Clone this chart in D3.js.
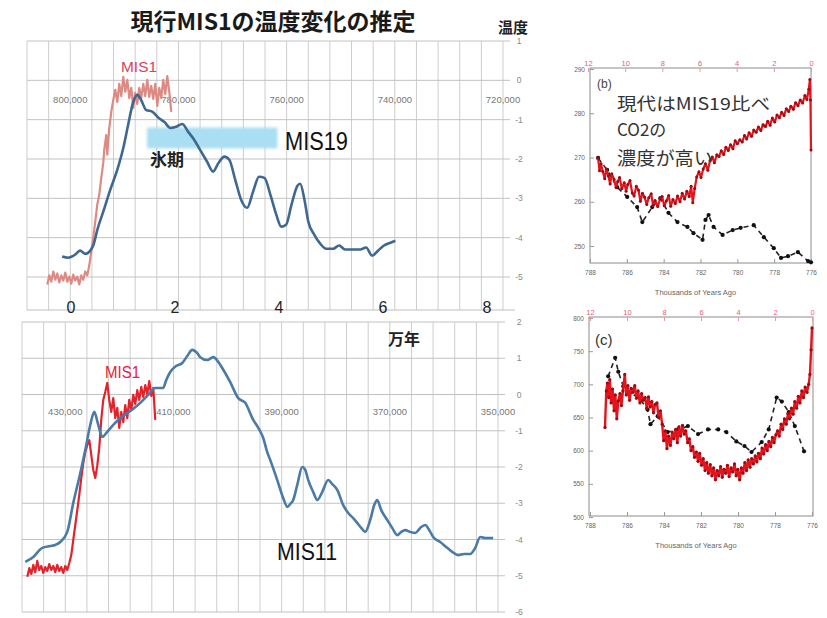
<!DOCTYPE html>
<html>
<head>
<meta charset="utf-8">
<script src="https://cdn.jsdelivr.net/npm/d3@7"></script>
<style>
  body { margin: 0; background: #fff; }
  svg { display: block; }
  text { font-family: "Liberation Sans", Arial, sans-serif; }
  .jp { font-family: "Noto Sans CJK JP", sans-serif; }
</style>
</head>
<body>
<svg id="chart" width="827" height="618"></svg>
<script>
// ---------- data ----------
// Upper left: MIS19 temperature anomaly (age in ka, anomaly in °C)
const mis19Temp = [[801.5,-4.48],[800.4,-4.51],[799.1,-4.43],[798.2,-4.33],[797.2,-4.41],[796.3,-4.33],[795.7,-4.18],[795.0,-3.80],[793.9,-3.34],[792.6,-2.78],[791.3,-2.27],[790.2,-1.72],[789.3,-1.13],[788.4,-0.57],[787.6,-0.37],[786.9,-0.50],[786.0,-0.75],[784.8,-0.80],[783.7,-0.95],[782.6,-1.06],[781.5,-1.21],[780.4,-1.18],[779.3,-1.11],[778.2,-1.31],[777.1,-1.51],[776.0,-1.77],[774.7,-2.07],[773.6,-2.32],[772.6,-2.10],[771.5,-1.94],[770.6,-2.02],[769.5,-2.53],[768.4,-3.04],[767.3,-3.24],[766.2,-2.83],[765.1,-2.45],[764.1,-2.48],[763.0,-2.91],[761.9,-3.42],[761.0,-3.72],[760.1,-3.67],[759.1,-3.16],[758.0,-2.68],[757.5,-2.63],[756.7,-3.04],[756.0,-3.59],[754.9,-3.92],[753.8,-4.15],[752.7,-4.28],[751.4,-4.28],[750.3,-4.20],[749.2,-4.30],[747.9,-4.30],[746.4,-4.30],[745.3,-4.25],[744.2,-4.46],[743.1,-4.33],[742.0,-4.20],[740.8,-4.13],[739.9,-4.08]];

// Upper left: MIS1 (current interglacial) overlaid on the MIS19 time axis
const mis1TempUpper = [[804.25,-5.19],[803.88,-4.96],[803.51,-5.12],[803.14,-4.86],[802.77,-5.07],[802.40,-4.91],[802.03,-5.14],[801.66,-4.96],[801.29,-5.09],[800.92,-4.89],[800.55,-5.12],[800.18,-4.99],[799.82,-5.17],[799.45,-4.94],[799.08,-5.09],[798.71,-4.99],[798.34,-5.19],[797.97,-4.96],[797.60,-5.07],[797.23,-4.86],[796.86,-4.96],[796.49,-4.71],[796.12,-4.36],[795.75,-4.00],[795.38,-3.59],[795.01,-3.16],[794.64,-2.91],[794.27,-2.48],[793.90,-2.10],[793.72,-1.77],[793.35,-1.39],[793.16,-1.89],[792.79,-1.21],[792.42,-0.80],[792.05,-0.50],[791.68,-0.24],[791.31,-0.55],[790.94,-0.09],[790.57,-0.40],[790.20,0.09],[789.83,-0.29],[789.46,0.01],[789.09,-0.45],[788.72,-0.19],[788.35,-0.70],[787.99,-0.32],[787.62,-0.60],[787.25,-0.19],[786.88,-0.45],[786.51,-0.09],[786.14,-0.40],[785.77,0.01],[785.40,-0.42],[785.03,-0.14],[784.66,-0.47],[784.29,-0.09],[783.92,-0.65],[783.55,-0.19],[783.18,-0.45],[782.81,0.01],[782.44,-0.35],[782.07,0.11],[781.70,-0.29],[781.33,-0.80]];

// Lower left: MIS11 temperature anomaly
const mis11Temp = [[437.39,-4.62],[435.91,-4.48],[434.25,-4.23],[432.77,-4.18],[431.85,-4.15],[430.92,-4.07],[429.63,-3.79],[428.52,-2.99],[427.23,-2.17],[426.30,-1.53],[425.38,-0.84],[424.64,-0.48],[423.90,-0.84],[423.16,-1.17],[422.24,-1.03],[421.13,-0.84],[419.83,-0.65],[418.54,-0.51],[417.25,-0.37],[416.13,-0.23],[414.66,-0.01],[413.36,0.18],[411.89,0.18],[411.33,0.40],[410.59,0.62],[409.48,0.79],[408.37,0.87],[407.45,1.06],[406.52,1.23],[405.60,1.14],[405.05,1.03],[403.75,0.95],[402.64,1.03],[401.72,0.90],[400.98,0.73],[399.50,0.34],[398.02,-0.10],[396.73,-0.23],[395.25,-0.70],[394.32,-0.92],[393.40,-1.20],[392.66,-1.59],[392.10,-1.81],[390.81,-2.36],[389.70,-2.86],[388.96,-3.10],[388.41,-3.02],[387.86,-2.91],[387.12,-2.50],[386.19,-2.00],[385.64,-2.08],[385.08,-2.36],[384.16,-2.69],[383.42,-2.91],[382.50,-2.69],[381.39,-2.36],[380.65,-2.47],[379.72,-2.63],[378.61,-3.05],[377.69,-3.27],[376.77,-3.41],[376.03,-3.54],[375.29,-3.68],[374.55,-3.79],[373.62,-3.46],[372.88,-3.05],[372.33,-2.91],[371.59,-3.19],[370.48,-3.46],[369.56,-3.68],[368.63,-3.88],[367.89,-3.79],[367.15,-3.74],[366.23,-3.79],[365.30,-3.82],[364.38,-3.68],[363.46,-3.60],[362.53,-3.79],[361.98,-3.93],[360.68,-4.07],[359.39,-4.23],[358.47,-4.34],[357.36,-4.43],[356.25,-4.40],[355.14,-4.40],[354.21,-4.23],[353.29,-3.93],[352.37,-3.96],[350.89,-3.96]];

// Lower left: MIS1 overlaid on the MIS11 time axis
const mis1TempLower = [[437.02,-5.03],[436.65,-4.79],[436.28,-4.95],[435.91,-4.70],[435.55,-4.90],[435.18,-4.59],[434.81,-4.84],[434.44,-4.73],[434.07,-4.92],[433.70,-4.76],[433.33,-4.87],[432.96,-4.68],[432.59,-4.84],[432.22,-4.73],[431.85,-4.90],[431.48,-4.70],[431.11,-4.87],[430.74,-4.76],[430.37,-4.92],[430.00,-4.73],[429.63,-4.84],[429.26,-4.65],[428.89,-4.43],[428.52,-4.01],[428.15,-3.60],[427.78,-3.19],[427.41,-2.77],[427.04,-2.30],[426.67,-1.89],[426.30,-1.59],[425.93,-1.39],[425.56,-1.26],[425.19,-1.67],[424.82,-2.08],[424.45,-2.30],[424.09,-1.97],[423.72,-1.48],[423.35,-0.70],[422.98,-0.15],[422.61,0.07],[422.24,0.32],[421.87,-0.15],[421.50,-0.48],[421.13,-0.10],[420.76,-0.65],[420.39,-0.37],[420.02,-0.92],[419.65,-0.48],[419.28,-0.76],[418.91,-0.29],[418.54,-0.65],[418.17,-0.15],[417.80,-0.43],[417.43,-0.01],[417.06,-0.26],[416.69,0.12],[416.32,-0.15],[415.95,0.21],[415.58,-0.07],[415.21,0.26],[414.84,0.01],[414.47,0.37],[414.10,-0.04],[413.73,0.18],[413.36,-0.70]];

// Panel (b): CO2 (ppm). Holocene on the upper ka axis, MIS19 on the lower ka axis
const co2Holocene = [[11.46,269.9],[11.38,267.0],[11.30,268.6],[11.21,266.9],[11.10,265.2],[11.02,267.4],[10.90,265.8],[10.81,264.0],[10.72,266.3],[10.60,265.1],[10.49,263.2],[10.40,264.6],[10.30,265.5],[10.18,263.0],[10.05,264.3],[9.95,262.4],[9.86,263.9],[9.74,264.8],[9.62,262.0],[9.52,261.3],[9.40,263.5],[9.28,262.6],[9.18,260.1],[9.07,261.9],[8.95,261.0],[8.84,259.4],[8.73,260.9],[8.60,261.8],[8.50,259.2],[8.39,260.3],[8.25,258.9],[8.12,260.6],[8.01,261.2],[7.90,259.1],[7.78,260.2],[7.66,261.4],[7.55,259.0],[7.43,260.5],[7.30,259.6],[7.18,261.3],[7.05,260.0],[6.93,261.9],[6.80,260.6],[6.68,262.4],[6.55,261.2],[6.45,263.5],[6.36,259.8],[6.26,263.0],[6.15,265.6],[6.03,266.8],[5.92,265.5],[5.80,267.4],[5.68,268.6],[5.55,267.1],[5.43,269.3],[5.31,270.1],[5.20,268.8],[5.07,270.6],[4.95,270.2],[4.83,271.5],[4.70,270.7],[4.58,272.3],[4.45,271.6],[4.33,272.9],[4.20,272.0],[4.08,273.8],[3.96,273.1],[3.83,274.0],[3.70,273.5],[3.58,275.0],[3.46,274.2],[3.33,275.6],[3.20,274.8],[3.08,276.2],[2.95,275.7],[2.83,276.9],[2.70,276.1],[2.58,277.4],[2.45,277.0],[2.33,278.2],[2.20,277.3],[2.08,278.9],[1.95,278.0],[1.83,279.6],[1.70,279.0],[1.58,280.2],[1.45,279.5],[1.33,281.0],[1.20,280.4],[1.08,281.6],[0.95,280.9],[0.83,282.4],[0.70,281.7],[0.58,283.0],[0.45,282.3],[0.33,284.0],[0.22,283.1],[0.12,285.4],[0.06,287.6],[0.03,283.0],[0.00,271.7]];
const co2Mis19 = [[787.56,269.9],[787.07,267.2],[786.53,263.3],[785.98,261.1],[785.44,258.8],[785.16,255.4],[784.62,258.8],[784.18,260.8],[783.74,257.5],[783.25,255.4],[782.71,254.3],[782.38,252.9],[781.89,251.4],[781.73,255.9],[781.56,257.0],[781.29,254.3],[780.80,252.5],[780.25,253.6],[779.82,254.1],[779.11,254.7],[778.56,252.0],[778.02,249.5],[777.63,247.3],[777.25,247.7],[776.71,248.6],[776.16,246.6],[776.00,246.3]];

// Panel (c): CH4 (ppb)
const ch4Holocene = [[11.19,635],[11.12,690],[11.06,702],[10.99,680],[10.93,707],[10.86,672],[10.78,693],[10.70,660],[10.63,684],[10.55,648],[10.47,675],[10.38,686],[10.30,668],[10.22,690],[10.12,715],[10.04,684],[9.95,698],[9.86,676],[9.77,694],[9.68,688],[9.58,698],[9.49,679],[9.40,690],[9.30,672],[9.21,686],[9.12,676],[9.02,680],[8.93,664],[8.84,681],[8.75,666],[8.66,674],[8.57,657],[8.48,670],[8.38,672],[8.29,650],[8.19,660],[8.10,640],[8.02,615],[7.93,630],[7.84,603],[7.75,622],[7.65,608],[7.56,628],[7.47,618],[7.37,632],[7.28,612],[7.19,636],[7.10,622],[7.00,638],[6.91,625],[6.82,630],[6.72,612],[6.63,618],[6.54,600],[6.44,606],[6.35,590],[6.25,598],[6.16,584],[6.07,596],[5.97,578],[5.88,588],[5.78,570],[5.69,582],[5.60,566],[5.50,579],[5.41,562],[5.32,574],[5.22,556],[5.13,570],[5.04,562],[4.94,576],[4.85,560],[4.76,572],[4.66,566],[4.57,578],[4.48,561],[4.38,574],[4.29,568],[4.19,580],[4.10,562],[4.01,572],[3.91,556],[3.82,574],[3.73,566],[3.63,582],[3.54,570],[3.45,586],[3.35,575],[3.26,588],[3.17,580],[3.07,592],[2.98,583],[2.89,596],[2.79,588],[2.70,604],[2.61,595],[2.51,609],[2.42,600],[2.33,614],[2.23,606],[2.14,620],[2.05,612],[1.95,624],[1.86,630],[1.77,622],[1.67,640],[1.58,632],[1.49,648],[1.39,640],[1.30,656],[1.21,648],[1.11,664],[1.02,655],[0.93,674],[0.83,664],[0.74,682],[0.65,672],[0.55,690],[0.46,680],[0.37,696],[0.27,688],[0.18,700],[0.11,715],[0.05,752],[0.00,785]];
const ch4Mis19 = [[787.02,712],[786.64,740],[786.47,719],[786.20,697],[785.82,688],[785.27,677],[784.89,662],[784.73,640],[784.34,652],[783.80,628],[783.25,632],[782.71,637],[782.16,625],[781.62,632],[781.07,632],[780.63,628],[780.09,614],[779.65,607],[779.27,598],[778.72,613],[778.34,632],[777.91,680],[777.63,674],[777.25,658],[776.93,637],[776.43,599]];

// Tick values and labels
const upperAgeTicks = [800, 780, 760, 740, 720];      // ka
const lowerAgeTicks = [430, 410, 390, 370, 350];      // ka
const manYearTicks = [0, 2, 4, 6, 8];                  // 万年
const upperTempTicks = [1, 0, -1, -2, -3, -4, -5];
const lowerTempTicks = [2, 1, 0, -1, -2, -3, -4, -5, -6];
const co2Ticks = [290, 280, 270, 260, 250];
const ch4Ticks = [800, 750, 700, 650, 600, 550, 500];
const mis19KaTicks = [788, 786, 784, 782, 780, 778, 776];
const holoceneKaTicks = [12, 10, 8, 6, 4, 2, 0];

const titleText = "現行MIS1の温度変化の推定";

// ---------- drawing ----------
const svg = d3.select("#chart");
const gridColor = "#cdcdcd";
const fmtYears = v => d3.format(",")(v * 1000);

// ===== upper-left panel (MIS19) =====
const xU = d3.scaleLinear().domain([808, 720]).range([27, 503]);
const yU = d3.scaleLinear().domain([1, -5]).range([41, 277]);
const upperBottom = 310;

const gU = svg.append("g");
gU.selectAll("line.v").data(d3.range(720, 809, 4)).join("line")
  .attr("x1", d => xU(d)).attr("x2", d => xU(d))
  .attr("y1", yU(1)).attr("y2", upperBottom)
  .attr("stroke", gridColor).attr("stroke-width", 1);
gU.selectAll("line.h").data(upperTempTicks).join("line")
  .attr("x1", xU(808)).attr("x2", xU(720) + 7)
  .attr("y1", d => yU(d)).attr("y2", d => yU(d))
  .attr("stroke", "#c2c2c2").attr("stroke-width", 1);
gU.append("line").attr("x1", xU(808)).attr("x2", 515)
  .attr("y1", upperBottom).attr("y2", upperBottom)
  .attr("stroke", "#bdbdbd").attr("stroke-width", 1.2);

// age labels along the panel
gU.selectAll("text.age").data(upperAgeTicks).join("text")
  .attr("x", d => xU(d)).attr("y", yU(0) + 23)
  .attr("text-anchor", "middle").attr("font-size", 9.5).attr("fill", "#777")
  .text(fmtYears);
// right temperature labels
gU.selectAll("text.t").data(upperTempTicks).join("text")
  .attr("x", 519).attr("y", d => yU(d) + 3)
  .attr("text-anchor", "middle").attr("font-size", 8.5).attr("fill", "#888")
  .text(d => d);

// ice-age band
const blur = svg.append("defs").append("filter").attr("id", "soft")
  .attr("x", "-10%").attr("y", "-50%").attr("width", "120%").attr("height", "200%");
blur.append("feGaussianBlur").attr("stdDeviation", 1.6);
gU.append("rect")
  .attr("x", xU(785.8)).attr("y", yU(-1.2))
  .attr("width", xU(761.7) - xU(785.8)).attr("height", yU(-1.73) - yU(-1.2))
  .attr("fill", "#a9def3").attr("filter", "url(#soft)");

const lineU = d3.line().x(d => xU(d[0])).y(d => yU(d[1]));
gU.append("path").datum(mis1TempUpper).attr("d", lineU)
  .attr("fill", "none").attr("stroke", "#de8a84").attr("stroke-width", 2.2)
  .attr("stroke-linejoin", "round");
gU.append("path").datum(mis19Temp).attr("d", d3.line().curve(d3.curveMonotoneX).x(d => xU(d[0])).y(d => yU(d[1])))
  .attr("fill", "none").attr("stroke", "#3f6890").attr("stroke-width", 2.6)
  .attr("stroke-linejoin", "round");

// ===== lower-left panel (MIS11) =====
const xL = d3.scaleLinear().domain([438, 350]).range([22, 498]);
const yL = d3.scaleLinear().domain([2, -6]).range([322, 612]);
const gL = svg.append("g");
gL.selectAll("line.v").data(d3.range(350, 439, 4)).join("line")
  .attr("x1", d => xL(d)).attr("x2", d => xL(d))
  .attr("y1", yL(2)).attr("y2", yL(-6))
  .attr("stroke", gridColor).attr("stroke-width", 1);
gL.selectAll("line.h").data(lowerTempTicks).join("line")
  .attr("x1", xL(438)).attr("x2", xL(350) + 7)
  .attr("y1", d => yL(d)).attr("y2", d => yL(d))
  .attr("stroke", "#c2c2c2").attr("stroke-width", 1);

gL.selectAll("text.age").data(lowerAgeTicks).join("text")
  .attr("x", d => xL(d)).attr("y", yL(0) + 20)
  .attr("text-anchor", "middle").attr("font-size", 9.5).attr("fill", "#777")
  .text(fmtYears);
gL.selectAll("text.t").data(lowerTempTicks).join("text")
  .attr("x", 519).attr("y", d => yL(d) + 3)
  .attr("text-anchor", "middle").attr("font-size", 8.5).attr("fill", "#888")
  .text(d => d);

const lineL = d3.line().x(d => xL(d[0])).y(d => yL(d[1]));
gL.append("path").datum(mis1TempLower).attr("d", lineL)
  .attr("fill", "none").attr("stroke", "#e3222c").attr("stroke-width", 2.2)
  .attr("stroke-linejoin", "round");
gL.append("path").datum(mis11Temp).attr("d", d3.line().curve(d3.curveMonotoneX).x(d => xL(d[0])).y(d => yL(d[1])))
  .attr("fill", "none").attr("stroke", "#4a7aa6").attr("stroke-width", 2.6)
  .attr("stroke-linejoin", "round");

// 万年 scale between the two panels
const xMan = d3.scaleLinear().domain([0, 8]).range([71, 487]);
svg.selectAll("text.man").data(manYearTicks).join("text")
  .attr("x", d => xMan(d)).attr("y", 313)
  .attr("text-anchor", "middle").attr("font-size", 16).attr("fill", "#222")
  .text(d => d);

// ---------- left annotations ----------
svg.append("text").attr("class", "jp").attr("x", 273).attr("y", 30)
  .attr("text-anchor", "middle").attr("font-size", 23).attr("font-weight", "bold")
  .attr("fill", "#1a1a1a").text(titleText);
svg.append("text").attr("class", "jp").attr("x", 513).attr("y", 33)
  .attr("text-anchor", "middle").attr("font-size", 15).attr("font-weight", "bold")
  .attr("fill", "#222").text("温度");
svg.append("text").attr("class", "jp").attr("x", 404).attr("y", 345)
  .attr("text-anchor", "middle").attr("font-size", 16).attr("font-weight", "bold")
  .attr("fill", "#222").text("万年");
svg.append("text").attr("class", "jp").attr("x", 150).attr("y", 166)
  .attr("font-size", 17).attr("font-weight", "bold").attr("fill", "#222").text("氷期");
svg.append("text").attr("x", 285).attr("y", 150)
  .attr("font-size", 26).attr("textLength", 63).attr("lengthAdjust", "spacingAndGlyphs")
  .attr("fill", "#111").text("MIS19");
svg.append("text").attr("x", 277).attr("y", 560)
  .attr("font-size", 24).attr("textLength", 60).attr("lengthAdjust", "spacingAndGlyphs")
  .attr("fill", "#111").text("MIS11");
svg.append("text").attr("x", 121).attr("y", 72)
  .attr("font-size", 15).attr("textLength", 36).attr("lengthAdjust", "spacingAndGlyphs")
  .attr("fill", "#e0405a").text("MIS1");
svg.append("text").attr("x", 105).attr("y", 378)
  .attr("font-size", 16).attr("textLength", 35).attr("lengthAdjust", "spacingAndGlyphs")
  .attr("fill", "#e8203a").text("MIS1");

// ===== right panels =====
function framedPanel(g, x, yTop, left, right, top, bottom, yTicks, yScale) {
  g.append("rect").attr("x", left).attr("y", top)
    .attr("width", right - left).attr("height", bottom - top)
    .attr("fill", "none").attr("stroke", "#8c8c8c").attr("stroke-width", 1);
  const ax = g.append("g").attr("transform", `translate(${left},0)`)
    .call(d3.axisLeft(yScale).tickValues(yTicks).tickSize(-4).tickPadding(5));
  ax.select(".domain").remove();
  ax.selectAll("line").attr("stroke", "#999");
  ax.selectAll("text").attr("font-size", 6.5).attr("fill", "#666");
  const bx = g.append("g").attr("transform", `translate(0,${bottom})`)
    .call(d3.axisBottom(x).tickValues(mis19KaTicks).tickSize(-4).tickPadding(7));
  bx.select(".domain").remove();
  bx.selectAll("line").attr("stroke", "#999");
  bx.selectAll("text").attr("font-size", 6.5).attr("fill", "#666");
  const tx = g.append("g").attr("transform", `translate(0,${top})`)
    .call(d3.axisTop(yTop).tickValues(holoceneKaTicks).tickSize(-4).tickPadding(2));
  tx.select(".domain").remove();
  tx.selectAll("line").attr("stroke", "#e89aa5");
  tx.selectAll("text").attr("font-size", 7.5).attr("fill", "#e0607a");
  g.append("text").attr("x", (left + right) / 2 - 5).attr("y", bottom + 32)
    .attr("text-anchor", "middle").attr("font-size", 7.5).attr("fill", "#666")
    .text("Thousands of Years Ago");
}

function seriesWithDots(g, data, x, y, color, dotColor, dashed, width, r) {
  g.append("path").datum(data)
    .attr("d", d3.line().x(d => x(d[0])).y(d => y(d[1])))
    .attr("fill", "none").attr("stroke", color).attr("stroke-width", width)
    .attr("stroke-dasharray", dashed ? "5,4" : null).attr("stroke-linejoin", "round");
  g.selectAll(null).data(data).join("circle")
    .attr("cx", d => x(d[0])).attr("cy", d => y(d[1])).attr("r", r)
    .attr("fill", dotColor);
}

// (b) CO2
const bLeft = 590, bRight = 811, bTop = 68, bBottom = 263;
const bxKa = d3.scaleLinear().domain([788, 776]).range([bLeft, bRight]);
const bxHolo = d3.scaleLinear().domain([12, 0]).range([bLeft - 2, bRight]);
const byCo2 = d3.scaleLinear().domain([290, 250]).range([69, 246]);
const gB = svg.append("g");
framedPanel(gB, bxKa, bxHolo, bLeft, bRight, bTop, bBottom, co2Ticks, byCo2);
seriesWithDots(gB, co2Mis19, bxKa, byCo2, "#222", "#111", true, 1.6, 2.1);
seriesWithDots(gB, co2Holocene, bxHolo, byCo2, "#e5141c", "#9e0a14", false, 2.2, 1.5);
gB.append("text").attr("x", 597).attr("y", 88).attr("font-size", 12).attr("fill", "#444").text("(b)");
gB.append("text").attr("class", "jp").attr("x", 617).attr("y", 110).attr("font-size", 17)
  .attr("textLength", 153).attr("lengthAdjust", "spacingAndGlyphs").attr("fill", "#333").text("現代はMIS19比べ");
gB.append("text").attr("class", "jp").attr("x", 617).attr("y", 136).attr("font-size", 17)
  .attr("fill", "#333").text("CO2の");
gB.append("text").attr("class", "jp").attr("x", 617).attr("y", 165).attr("font-size", 18)
  .attr("textLength", 96).attr("lengthAdjust", "spacingAndGlyphs").attr("fill", "#333").text("濃度が高い");

// (c) CH4
const cLeft = 589, cRight = 813, cTop = 317, cBottom = 516;
const cxKa = d3.scaleLinear().domain([788, 776]).range([cLeft + 1, cRight - 1]);
const cxHolo = d3.scaleLinear().domain([12, 0]).range([cLeft + 1, cRight - 1]);
const cyCh4 = d3.scaleLinear().domain([800, 500]).range([cTop + 1, cBottom + 1]);
const gC = svg.append("g");
framedPanel(gC, cxKa, cxHolo, cLeft, cRight, cTop, cBottom, ch4Ticks, cyCh4);
seriesWithDots(gC, ch4Mis19, cxKa, cyCh4, "#222", "#111", true, 1.6, 2.1);
seriesWithDots(gC, ch4Holocene, cxHolo, cyCh4, "#e5141c", "#9e0a14", false, 2.4, 1.6);
gC.append("text").attr("x", 595).attr("y", 345).attr("font-size", 15)
  .attr("font-family", "Liberation Serif, serif").attr("fill", "#333").text("(c)");
</script>
</body>
</html>
